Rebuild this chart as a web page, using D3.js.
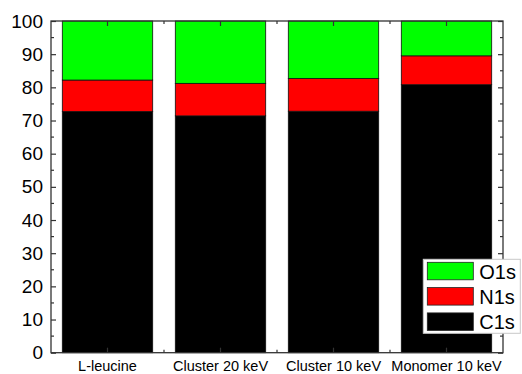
<!DOCTYPE html>
<html>
<head>
<meta charset="utf-8">
<script src="https://cdn.jsdelivr.net/npm/d3@7/dist/d3.min.js"></script>
<style>
  html, body { margin: 0; padding: 0; background: #fff; }
  svg { display: block; font-family: "Liberation Sans", Arial, sans-serif; }
</style>
</head>
<body>
<svg id="chart" width="522" height="374"></svg>
<script>
// Elemental composition (atomic %) of each sample, stacked C1s / N1s / O1s
const samples = ["L-leucine", "Cluster 20 keV", "Cluster 10 keV", "Monomer 10 keV"];
const c1s = [72.7, 71.4, 72.8, 80.8];
const n1s = [9.5, 9.8, 9.9, 8.7];
const o1s = [17.8, 18.8, 17.3, 10.5];
const seriesNames = ["C1s", "N1s", "O1s"];
const seriesColors = ["#000000", "#ff0000", "#00ff00"];
const yTicks = [0, 10, 20, 30, 40, 50, 60, 70, 80, 90, 100];

const svg = d3.select("#chart");
const plot = { left: 51, right: 503, top: 21, bottom: 352.7 };

const x = d3.scaleBand()
  .domain(samples)
  .range([plot.left, plot.right])
  .paddingInner(0.2)
  .paddingOuter(0.1);

const y = d3.scaleLinear().domain([0, 100]).range([plot.bottom, plot.top]);

const rows = samples.map((s, i) => ({ sample: s, C1s: c1s[i], N1s: n1s[i], O1s: o1s[i] }));
const stacked = d3.stack().keys(seriesNames)(rows);

// Stacked bars
svg.append("g")
  .selectAll("g")
  .data(stacked)
  .join("g")
  .attr("fill", (d, i) => seriesColors[i])
  .selectAll("rect")
  .data(d => d)
  .join("rect")
  .attr("x", d => x(d.data.sample))
  .attr("width", x.bandwidth())
  .attr("y", d => y(d[1]))
  .attr("height", d => y(d[0]) - y(d[1]))
  .attr("stroke", "#111")
  .attr("stroke-width", 0.8);

const frameColor = "#333";
const minorY = d3.range(5, 100, 10);
const gapX = samples.slice(1).map(s => x(s) - x.step() * x.paddingInner() / 2);

// Left axis: ticks point inward
const axLeft = svg.append("g").attr("transform", `translate(${plot.left},0)`);
axLeft.call(d3.axisLeft(y).tickValues(yTicks).tickSize(-5).tickPadding(8).tickSizeOuter(0));
axLeft.selectAll(".tick text").attr("font-size", 19).attr("fill", "#000")
  .attr("font-family", "Liberation Sans, Arial, sans-serif");
axLeft.selectAll("line").attr("stroke", frameColor).attr("stroke-width", 1.2);
axLeft.select(".domain").remove();
axLeft.selectAll(".minor").data(minorY).join("line").attr("class", "minor")
  .attr("x1", 0).attr("x2", 3).attr("y1", d => y(d)).attr("y2", d => y(d))
  .attr("stroke", frameColor).attr("stroke-width", 1.2);

// Right axis: ticks point inward, no labels
const axRight = svg.append("g").attr("transform", `translate(${plot.right},0)`);
axRight.call(d3.axisRight(y).tickValues(yTicks).tickSize(-5).tickFormat("").tickSizeOuter(0));
axRight.selectAll("line").attr("stroke", frameColor).attr("stroke-width", 1.2);
axRight.select(".domain").remove();
axRight.selectAll(".minor").data(minorY).join("line").attr("class", "minor")
  .attr("x1", 0).attr("x2", -3).attr("y1", d => y(d)).attr("y2", d => y(d))
  .attr("stroke", frameColor).attr("stroke-width", 1.2);

// Bottom axis: category labels, inward ticks
const axBottom = svg.append("g").attr("transform", `translate(0,${plot.bottom})`);
axBottom.call(d3.axisBottom(x).tickSize(-5).tickPadding(8).tickSizeOuter(0));
axBottom.selectAll(".tick text").attr("font-size", 14.5).attr("fill", "#000")
  .attr("font-family", "Liberation Sans, Arial, sans-serif");
axBottom.selectAll("line").attr("stroke", frameColor).attr("stroke-width", 1.2);
axBottom.select(".domain").remove();
axBottom.selectAll(".minor").data(gapX).join("line").attr("class", "minor")
  .attr("x1", d => d).attr("x2", d => d).attr("y1", 0).attr("y2", -3)
  .attr("stroke", frameColor).attr("stroke-width", 1.2);

// Top axis: inward ticks, no labels
const axTop = svg.append("g").attr("transform", `translate(0,${plot.top})`);
axTop.call(d3.axisTop(x).tickSize(-5).tickFormat("").tickSizeOuter(0));
axTop.selectAll("line").attr("stroke", frameColor).attr("stroke-width", 1.2);
axTop.select(".domain").remove();
axTop.selectAll(".minor").data(gapX).join("line").attr("class", "minor")
  .attr("x1", d => d).attr("x2", d => d).attr("y1", 0).attr("y2", 3)
  .attr("stroke", frameColor).attr("stroke-width", 1.2);

// Plot frame
svg.append("rect")
  .attr("x", plot.left).attr("y", plot.top)
  .attr("width", plot.right - plot.left).attr("height", plot.bottom - plot.top)
  .attr("fill", "none").attr("stroke", frameColor).attr("stroke-width", 1.3);

// Legend (top entry is O1s)
const legend = svg.append("g").attr("transform", "translate(423.3,259.3)");
legend.append("rect")
  .attr("width", 97).attr("height", 74)
  .attr("fill", "#fff").attr("stroke", "#c8c8c8").attr("stroke-width", 1);
const legendOrder = seriesNames.map((n, i) => ({ name: n, color: seriesColors[i] })).reverse();
const entry = legend.selectAll(".entry").data(legendOrder).join("g")
  .attr("class", "entry")
  .attr("transform", (d, i) => `translate(4,${3 + i * 25.3})`);
entry.append("rect")
  .attr("width", 46).attr("height", 17.5)
  .attr("fill", d => d.color).attr("stroke", "#222").attr("stroke-width", 0.8);
entry.append("text")
  .attr("x", 52).attr("y", 16.5)
  .attr("font-size", 20).attr("fill", "#000")
  .attr("font-family", "Liberation Sans, Arial, sans-serif")
  .text(d => d.name);
</script>
</body>
</html>
